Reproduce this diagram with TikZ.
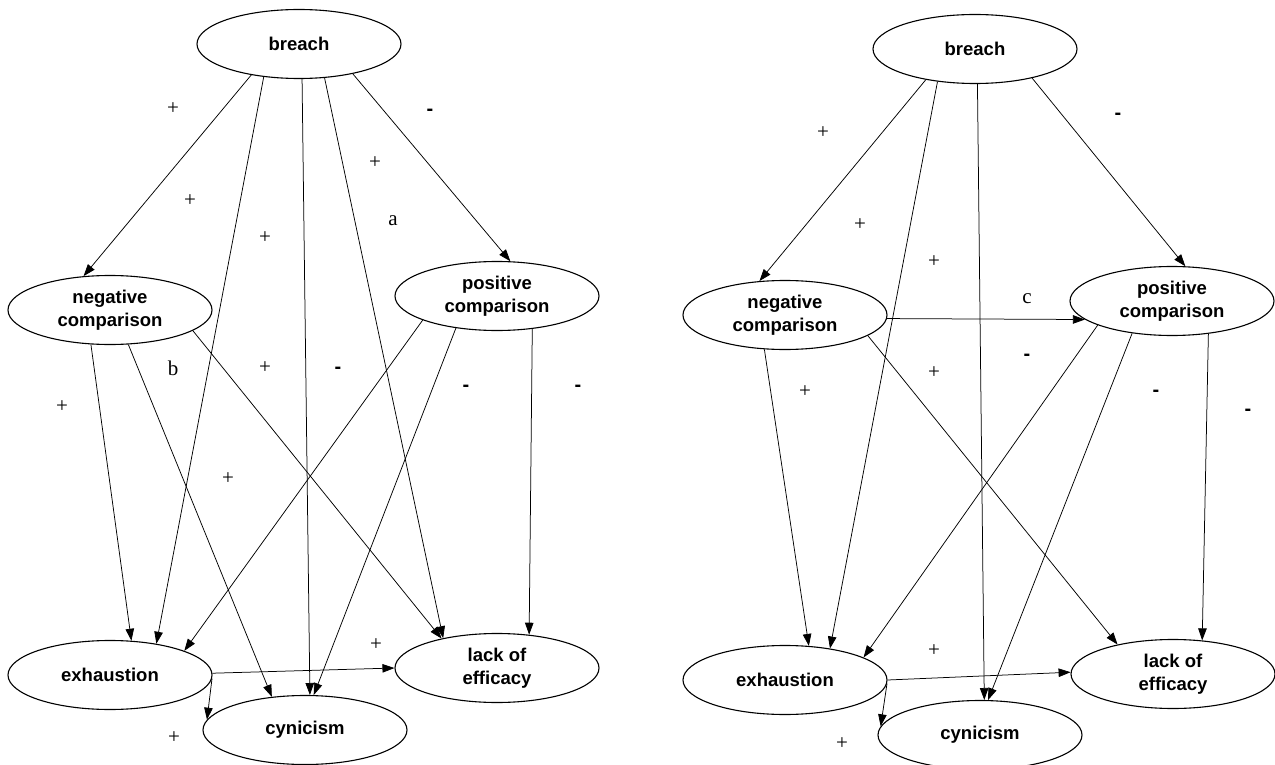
\documentclass[tikz,border=0pt]{standalone}
\usepackage{fontspec}
\setmainfont{Liberation Serif}
\newfontfamily\nodefont{Liberation Sans}
\usetikzlibrary{arrows.meta,shapes.geometric}
\begin{document}
\begin{tikzpicture}[x=1pt,y=-1pt,
  var/.style={ellipse,draw,line width=1.1pt,minimum width=204pt,minimum height=69pt,inner sep=0pt,align=center,font=\nodefont\bfseries\fontsize{18.5}{23}\selectfont},
  arr/.style={line width=0.75pt,-{Triangle[length=12pt,width=8.5pt]}},
  lab/.style={font=\fontsize{21}{22}\selectfont,inner sep=0pt},
  neg/.style={font=\nodefont\bfseries\fontsize{20}{22}\selectfont,inner sep=0pt}]
\useasboundingbox (0,0) rectangle (1275,765);
% ---------- left diagram ----------
\node[var] (B1) at (299,44) {breach};
\node[var] (N1) at (110,310) {negative\\comparison};
\node[var] (P1) at (497,296) {positive\\comparison};
\node[var] (E1) at (110,675) {exhaustion};
\node[var] (C1) at (305,730) {cynicism};
\node[var] (L1) at (497,668) {lack of\\efficacy};
\draw[arr] (B1.-147.9) -- (N1.128.2);
\draw[arr] (B1.-137.4) -- (E1.34.5);
\draw[arr] (B1.-85.1) -- (C1.82.3);
\draw[arr] (B1.-53.7) -- (L1.151);
\draw[arr] (B1.-29.9) -- (P1.69);
\draw[arr] (N1.-119.7) -- (E1.58.1);
\draw[arr] (N1.-62.8) -- (C1.135.8);
\draw[arr] (N1.-14.8) -- (L1.152.7);
\draw[arr] (P1.-162.4) -- (E1.18.9);
\draw[arr] (P1.-142.3) -- (C1.76.3);
\draw[arr] (P1.-43.4) -- (L1.46.8);
\draw[arr] (E1.1.1) -- (L1.180);
\draw[arr] (E1.-2.8) -- (C1.174.3);
\node[lab] (la1) at (173,109) {+};
\node[neg] (la2) at (430,112) {-};
\node[lab] (la3) at (375,163) {+};
\node[lab] (la4) at (190,201) {+};
\node[lab] (la5) at (393,221) {a};
\node[lab] (la6) at (265,238) {+};
\node[lab] (la7) at (173,368) {b};
\node[lab] (la8) at (265,368) {+};
\node[neg] (la9) at (338,370) {-};
\node[neg] (la10) at (466,388) {-};
\node[neg] (la11) at (578,388) {-};
\node[lab] (la12) at (62,407) {+};
\node[lab] (la13) at (228,479) {+};
\node[lab] (la14) at (376,645) {+};
\node[lab] (la15) at (174,738) {+};
% ---------- right diagram ----------
\node[var] (B2) at (975,49) {breach};
\node[var] (N2) at (785,315) {negative\\comparison};
\node[var] (P2) at (1172,301) {positive\\comparison};
\node[var] (E2) at (785,680) {exhaustion};
\node[var] (C2) at (980,735) {cynicism};
\node[var] (L2) at (1173,674) {lack of\\efficacy};
\draw[arr] (B2.-148.7) -- (N2.127.6);
\draw[arr] (B2.-139.8) -- (E2.35.1);
\draw[arr] (B2.-86.7) -- (C2.83.5);
\draw[arr] (B2.-27.8) -- (P2.69.1);
\draw[arr] (N2.-2.2) -- (P2.-168.4);
\draw[arr] (N2.-121.7) -- (E2.55.9);
\draw[arr] (N2.-14.8) -- (L2.152.6);
\draw[arr] (P2.-162.9) -- (E2.16.2);
\draw[arr] (P2.-141.7) -- (C2.77.1);
\draw[arr] (P2.-42.6) -- (L2.49.4);
\draw[arr] (E2.0.6) -- (L2.179.4);
\draw[arr] (E2.-2.9) -- (C2.175.5);
\node[lab] (lb1) at (823,133) {+};
\node[neg] (lb2) at (1118,116) {-};
\node[lab] (lb3) at (860,225) {+};
\node[lab] (lb4) at (934,262) {+};
\node[lab] (lb5) at (1027,299) {c};
\node[neg] (lb6) at (1027,357) {-};
\node[lab] (lb7) at (934,373) {+};
\node[lab] (lb8) at (805,392) {+};
\node[neg] (lb9) at (1156,393) {-};
\node[neg] (lb10) at (1248,412) {-};
\node[lab] (lb11) at (934,651) {+};
\node[lab] (lb12) at (842,744) {+};
\end{tikzpicture}
\end{document}
